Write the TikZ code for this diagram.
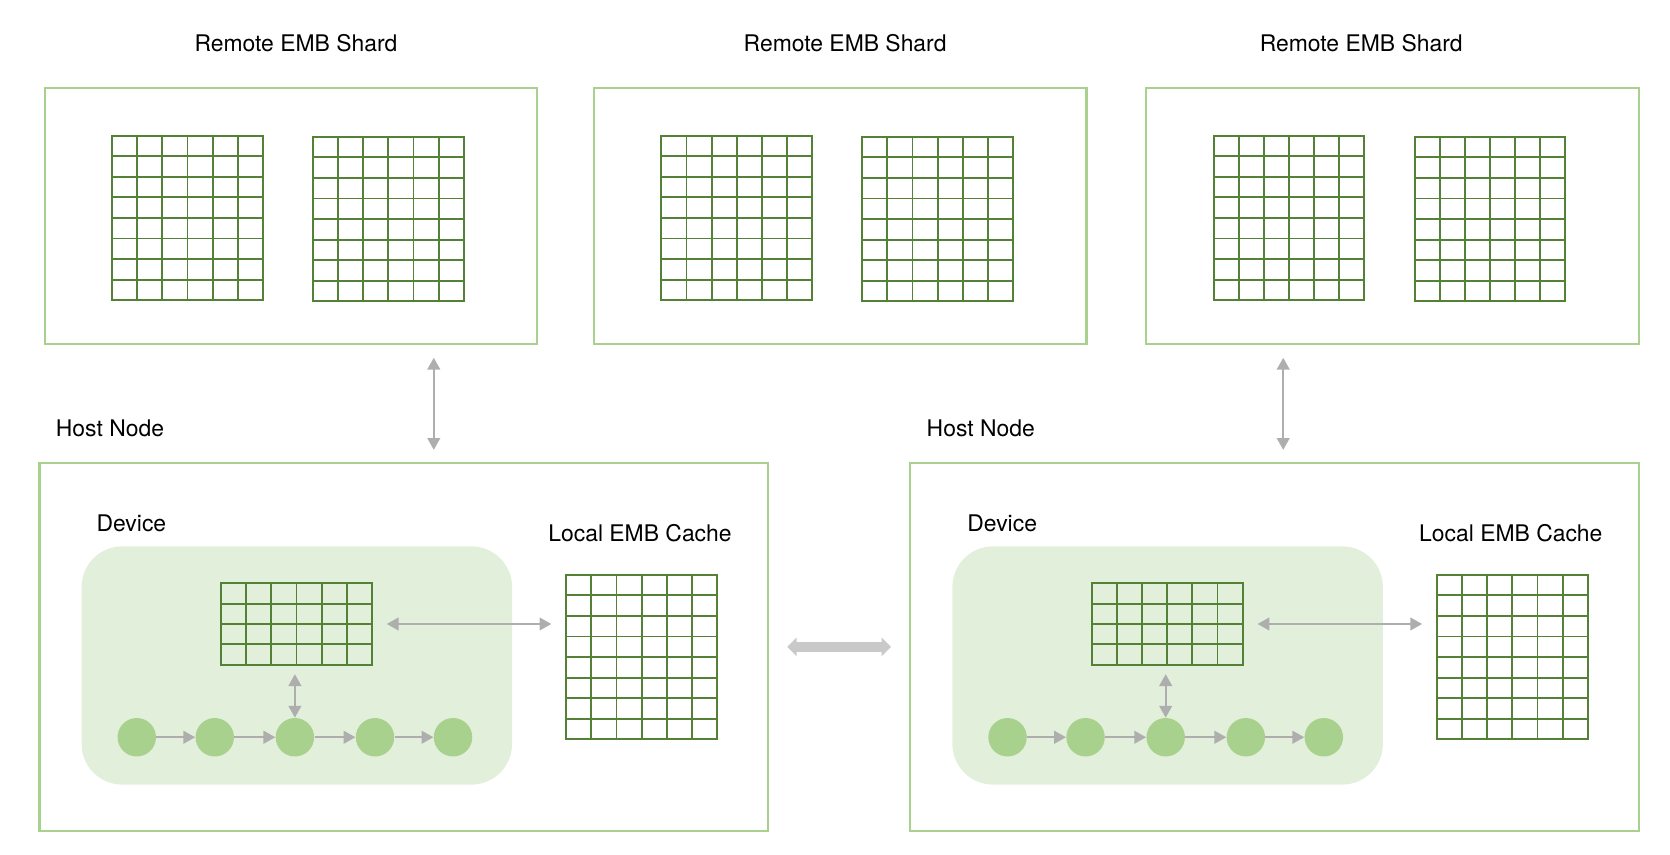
\documentclass[tikz,border=0pt]{standalone}
\usepackage{fontspec}
\setmainfont{TeX Gyre Heros}
\usetikzlibrary{arrows.meta,calc,positioning}

\definecolor{boxgreen}{HTML}{A9D18E}
\definecolor{gridgreen}{HTML}{538135}
\definecolor{devfill}{HTML}{E2EFDA}
\definecolor{linkgray}{HTML}{AEAEAE}
\definecolor{biggray}{HTML}{C9C9C9}

\tikzset{
    >={Triangle[width=6.8pt,length=6.3pt]},
    lbl/.style={font=\fontsize{12.2}{14}\selectfont, inner sep=0pt},
    shardbox/.style={draw=boxgreen, line width=1.1pt, minimum width=9.22cm, minimum height=4.8cm, anchor=north west, inner sep=0pt},
    hostbox/.style={draw=boxgreen, line width=1.1pt, minimum width=13.64cm, minimum height=6.9cm, anchor=north west, inner sep=0pt},
    devicebox/.style={fill=devfill, rounded corners=0.76cm, minimum width=8.06cm, minimum height=4.46cm, anchor=north west, inner sep=0pt},
    gridbox/.style={draw=gridgreen, line width=1pt, anchor=north west, inner sep=0pt, outer sep=0pt},
    gridline/.style={draw=gridgreen, line width=1pt},
    op/.style={circle, fill=boxgreen, minimum size=0.72cm, inner sep=0pt},
    flow/.style={draw=linkgray, line width=1pt, ->},
    link/.style={draw=linkgray, line width=1pt, <->},
    bigarrow/.style={draw=biggray, line width=5.7pt, {Triangle[width=9.6pt,length=5pt]}-{Triangle[width=9.6pt,length=5pt]}}
}

% embedding table: name, left, top, width, height, cols, rows
\newcommand{\embgrid}[7]{%
    \node[gridbox, minimum width=#4*0.02cm, minimum height=#5*0.02cm] (#1) at (#2,#3) {};
    \foreach \i in {1,...,#6}
        \draw[gridline] ($(#1.north west)!\i/#6!(#1.north east)$) -- ($(#1.south west)!\i/#6!(#1.south east)$);
    \foreach \j in {1,...,#7}
        \draw[gridline] ($(#1.north west)!\j/#7!(#1.south west)$) -- ($(#1.north east)!\j/#7!(#1.south east)$);
}

\begin{document}
\begin{tikzpicture}[x=0.02cm, y=-0.02cm]

    \useasboundingbox (0,0) rectangle (1563,799.3);

    %% Remote EMB shards
    \foreach \k/\sx/\tx in {1/41/277, 2/555/791, 3/1072/1274} {
        \node[shardbox] (shard\k) at (\sx,81) {};
        \node[lbl] (title\k) at (\tx,40) {Remote EMB Shard};
        \embgrid{emb\k-l}{\sx+64}{127}{141}{154}{6}{8}
        \embgrid{emb\k-r}{\sx+252}{128}{141}{154}{6}{8}
    }

    %% Host nodes
    \foreach \k/\hx in {1/0, 2/815} {
        % Host and device
        \node[hostbox] (host\k) at (36+\hx,432) {};
        \node[lbl, anchor=west] (hostlbl\k) at (52+\hx,401) {Host Node};
        \node[devicebox] (dev\k) at (76+\hx,511) {};
        \node[lbl, anchor=west] (devlbl\k) at (90+\hx,490) {Device};

        % Local cache
        \node[lbl] (cachelbl\k) at (599+\hx,499) {Local EMB Cache};
        \embgrid{cache\k}{530+\hx}{538}{141}{154}{6}{8}

        % Device table
        \embgrid{devemb\k}{207+\hx}{546}{141}{76}{6}{4}

        % Ops
        \foreach \c/\cx in {1/128, 2/201, 3/276, 4/351, 5/424}
            \node[op] (op\k-\c) at (\cx+\hx,690) {};
        \foreach \a/\b in {1/2, 2/3, 3/4, 4/5}
            \draw[flow] (op\k-\a) -- (op\k-\b);

        % Table links
        \draw[link, shorten <=0.28cm, shorten >=0.28cm] (devemb\k.east) -- (devemb\k.east -| cache\k.west);
        \draw[link, shorten <=0.18cm] (devemb\k.south -| op\k-3) -- (op\k-3.north);
    }

    % Shard to host links
    \coordinate (sync1) at (406,0);
    \coordinate (sync2) at (1201,0);
    \draw[link, shorten <=0.24cm, shorten >=0.22cm] (shard1.south -| sync1) -- (host1.north -| sync1);
    \draw[link, shorten <=0.24cm, shorten >=0.22cm] (shard3.south -| sync2) -- (host2.north -| sync2);

    % Host to host
    \draw[bigarrow, shorten <=0.34cm, shorten >=0.34cm] (host1.east) -- (host2.west);

\end{tikzpicture}
\end{document}
